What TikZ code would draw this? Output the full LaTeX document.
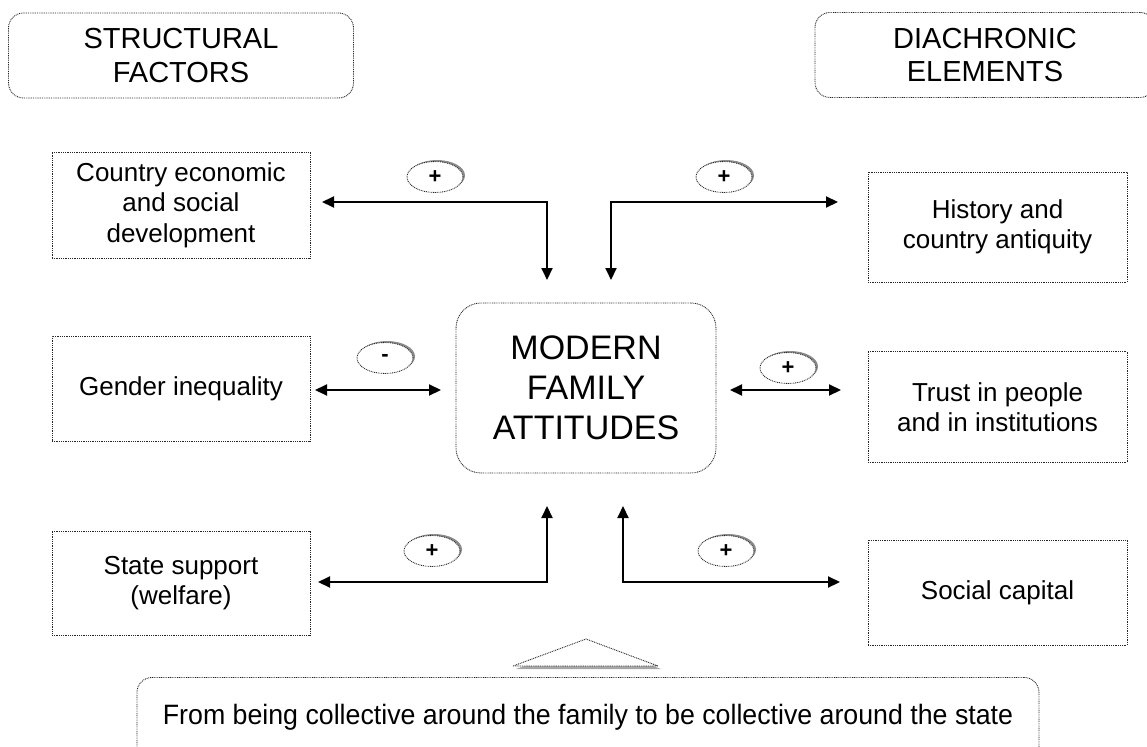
\documentclass[tikz,border=0pt]{standalone}
\usepackage{fontspec}
\setmainfont{Liberation Sans}
\usetikzlibrary{arrows.meta,shapes.geometric,shadows}
\begin{document}
\begin{tikzpicture}[x=1pt,y=-1pt,
  dotline/.style={draw=black!85, line width=0.9pt, dash pattern=on 0.9pt off 0.9pt},
  head/.style={dotline, rounded corners=15pt, minimum width=345pt, minimum height=85pt, align=center, font=\fontsize{29}{33.5}\selectfont},
  factor/.style={dotline, minimum width=258pt, align=center, font=\fontsize{26}{30.5}\selectfont},
  sign/.style={dotline, ellipse, fill=white, minimum width=56pt, minimum height=31pt, inner sep=0pt, font=\fontsize{22}{22}\bfseries\selectfont, drop shadow={shadow xshift=2pt, shadow yshift=1.5pt, fill=black!45, opacity=1}},
  link/.style={line width=2pt, {Triangle[length=12pt,width=11pt]}-{Triangle[length=12pt,width=11pt]}},
]
\useasboundingbox (0,0) rectangle (1147,746);

% headings
\node[head] (struct) at (181,55.5) {STRUCTURAL\\FACTORS};
\node[head, minimum width=340pt] (diach) at (985,55) {DIACHRONIC\\ELEMENTS};

% left factors
\node[factor, minimum height=106pt] (econ) at (181,205) {Country economic\\and social\\development};
\node[factor, minimum height=105pt] (gender) at (181,388.5) {Gender inequality};
\node[factor, minimum height=104pt] (state) at (181,583) {State support\\(welfare)};

% right factors
\node[factor, minimum width=259pt, minimum height=110pt] (hist) at (997.5,227) {History and\\country antiquity};
\node[factor, minimum width=259pt, minimum height=111pt] (trust) at (997.5,407) {Trust in people\\and in institutions};
\node[factor, minimum width=259pt, minimum height=105pt] (social) at (997.5,592.5) {Social capital};

% centre
\node[dotline, rounded corners=25pt, minimum width=260pt, minimum height=170pt, align=center, font=\fontsize{34}{40}\selectfont] (fam) at (586,388) {MODERN\\FAMILY\\ATTITUDES};

% connector ends
\coordinate (a1) at (322,202);
\coordinate (a2) at (547,280);
\coordinate (b1) at (611,280);
\coordinate (b2) at (838,202);
\coordinate (c1) at (315,390);
\coordinate (c2) at (441,390);
\coordinate (g1) at (730,390);
\coordinate (g2) at (841,390);
\coordinate (d1) at (547,506);
\coordinate (d2) at (318,582);
\coordinate (e1) at (623,506);
\coordinate (e2) at (840,582);

\draw[link] (a1) -| (a2);
\draw[link] (b1) |- (b2);
\draw[link] (c1) -- (c2);
\draw[link] (g1) -- (g2);
\draw[link] (d1) |- (d2);
\draw[link] (e1) |- (e2);

% signs
\node[sign] (s1) at (435,177) {+};
\node[sign] (s2) at (724,177) {+};
\node[sign] (s3) at (385,358) {-};
\node[sign] (s4) at (788,368) {+};
\node[sign] (s5) at (432,551) {+};
\node[sign] (s6) at (726,551) {+};

% triangle
\fill[black!35] (516,669) -- (589,642) -- (661,669) -- cycle;
\filldraw[dotline, fill=white] (513,666) -- (586,639) -- (658,666) -- cycle;

% bottom box
\node[dotline, rounded corners=15pt, anchor=north, minimum width=902pt, inner xsep=0pt, inner ysep=0pt, text height=47pt, text depth=66pt, font=\fontsize{28}{30}\selectfont\addfontfeature{FakeStretch=0.955}] (shift) at (588,677) {From being collective around the family to be collective around the state};
\end{tikzpicture}
\end{document}
